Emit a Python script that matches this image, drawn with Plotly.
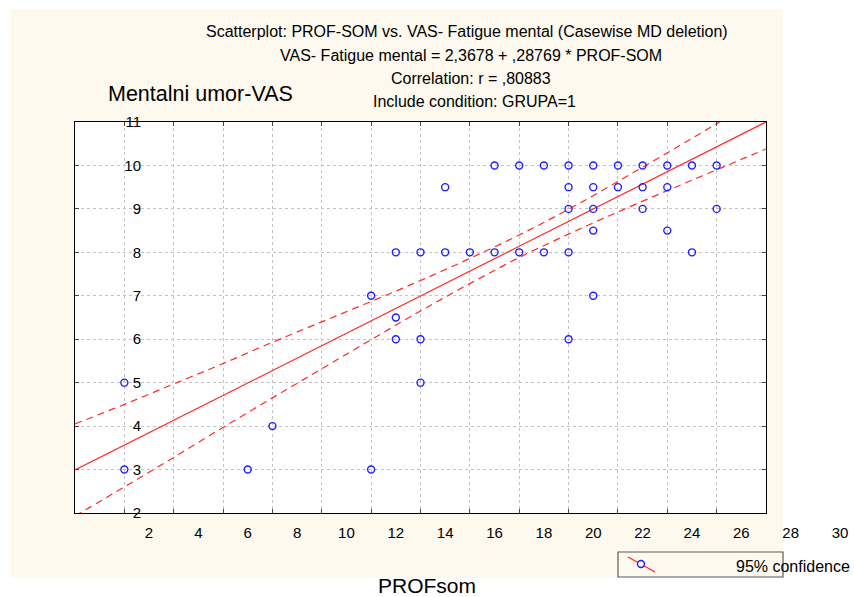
import plotly.graph_objects as go

# ---- data ----
prof_som = [1, 1, 6, 7, 11, 11, 12, 12, 12, 13, 13, 13, 14, 14, 15, 16, 16, 17, 17, 18, 18,
            19, 19, 19, 19, 19, 20, 20, 20, 20, 20, 21, 21, 22, 22, 22, 23, 23, 23, 24, 24, 25, 25]
vas_mental = [5, 3, 3, 4, 7, 3, 8, 6.5, 6, 8, 6, 5, 9.5, 8, 8, 10, 8, 10, 8, 10, 8,
              10, 9.5, 9, 8, 6, 10, 9.5, 9, 8.5, 7, 10, 9.5, 10, 9.5, 9, 10, 9.5, 8.5, 10, 8, 10, 9]

fit_x = [-1, 27]
fit_y = [2.99, 11.0]

band_x = [-1, 1, 3, 5, 7, 9, 11, 13, 15, 17, 19, 21, 23, 25, 27]
band_upper = [4.05, 4.50, 4.97, 5.44, 5.93, 6.40, 6.87, 7.35, 7.86, 8.40, 8.99, 9.63, 10.29, 10.96, 11.64]
band_lower = [1.93, 2.60, 3.28, 3.97, 4.65, 5.32, 5.99, 6.65, 7.28, 7.88, 8.42, 8.93, 9.42, 9.90, 10.38]

grid_x = [1, 3, 5, 7, 9, 11, 13, 15, 17, 19, 21, 23, 25]
grid_y = [3, 4, 5, 6, 7, 8, 9, 10]
x_tick_labels = [2, 4, 6, 8, 10, 12, 14, 16, 18, 20, 22, 24, 26, 28, 30]
y_tick_labels = [2, 3, 4, 5, 6, 7, 8, 9, 10, 11]

title_lines = [
    "Scatterplot: PROF-SOM vs. VAS- Fatigue mental (Casewise MD deletion)",
    "VAS- Fatigue mental = 2,3678 + ,28769 * PROF-SOM",
    "Correlation: r = ,80883",
    "Include condition: GRUPA=1",
]

FONT = "Liberation Sans, Arial, sans-serif"
RED = "rgb(255,40,40)"
BLUE = "rgb(30,30,255)"
CREAM = "rgb(253,249,238)"

# ---- pixel geometry helpers (layout only) ----
W, H = 854, 597
ML, MR, MT, MB = 75, 4, 122, 72
PW = W - ML - MR
PH = H - MT - MB


def px(xp):
    return (xp - ML) / PW


def py(yp):
    return (H - MB - yp) / PH


x_dom_end = px(766)
y_dom_start = py(513)

fig = go.Figure()

# confidence bands
fig.add_trace(go.Scatter(x=band_x, y=band_upper, mode="lines", line=dict(color=RED, width=1.2, dash="7px,5px", shape="spline"),
                         showlegend=False, hoverinfo="skip"))
fig.add_trace(go.Scatter(x=band_x, y=band_lower, mode="lines", line=dict(color=RED, width=1.2, dash="7px,5px", shape="spline"),
                         showlegend=False, hoverinfo="skip"))
# regression line
fig.add_trace(go.Scatter(x=fit_x, y=fit_y, mode="lines", line=dict(color=RED, width=1.2),
                         showlegend=False, hoverinfo="skip"))
# points
fig.add_trace(go.Scatter(x=prof_som, y=vas_mental, mode="markers",
                         marker=dict(symbol="circle-open", size=7, color=BLUE, line=dict(width=1.4, color=BLUE)),
                         showlegend=False))
# helper traces for label axes
fig.add_trace(go.Scatter(x=[None], y=[None], xaxis="x", yaxis="y2", showlegend=False, hoverinfo="skip"))
fig.add_trace(go.Scatter(x=[None], y=[None], xaxis="x2", yaxis="y3", showlegend=False, hoverinfo="skip"))

shapes = [
    dict(type="rect", xref="paper", yref="paper", x0=px(10), x1=px(783), y0=py(578), y1=py(9),
         fillcolor=CREAM, line=dict(width=0), layer="below"),
    dict(type="rect", xref="paper", yref="paper", x0=0, x1=x_dom_end, y0=y_dom_start, y1=1,
         fillcolor="white", line=dict(width=0), layer="below"),
    # legend box
    dict(type="rect", xref="paper", yref="paper", x0=px(618), x1=px(783), y0=py(577), y1=py(552),
         fillcolor=CREAM, line=dict(color="rgb(90,90,90)", width=1.2), layer="above"),
    dict(type="line", xref="paper", yref="paper", x0=px(628), x1=px(655), y0=py(557), y1=py(572),
         line=dict(color=RED, width=1.2), layer="above"),
    dict(type="circle", xref="paper", yref="paper", x0=px(637.5), x1=px(644.5), y0=py(567.5), y1=py(560.5),
         fillcolor=CREAM, line=dict(color=BLUE, width=1.4), layer="above"),
]

annotations = []
for line, xc, yp in zip(title_lines, [467, 471, 471, 474], [32, 55, 78, 101]):
    annotations.append(dict(text=line, xref="paper", yref="paper", x=px(xc), y=py(yp),
                            xanchor="center", yanchor="middle", showarrow=False,
                            font=dict(family=FONT, size=16, color="black")))
annotations.append(dict(text="Mentalni umor-VAS", xref="paper", yref="paper", x=px(106), y=py(94),
                        xanchor="left", yanchor="middle", showarrow=False,
                        font=dict(family=FONT, size=21.5, color="black")))
annotations.append(dict(text="PROFsom", xref="paper", yref="paper", x=px(427), y=py(585),
                        xanchor="center", yanchor="middle", showarrow=False,
                        font=dict(family=FONT, size=21, color="black")))
annotations.append(dict(text="95% confidence", xref="paper", yref="paper", x=px(734), y=py(566),
                        xanchor="left", yanchor="middle", showarrow=False,
                        font=dict(family=FONT, size=16, color="black")))

axis_common = dict(showline=True, linecolor="black", linewidth=1.2, mirror="ticks",
                   ticks="inside", ticklen=4, tickwidth=1.2, tickcolor="rgb(70,70,70)",
                   showgrid=True, gridcolor="rgb(195,195,195)", griddash="dot", gridwidth=1,
                   zeroline=False, showticklabels=False)

fig.update_layout(
    width=W, height=H,
    margin=dict(l=ML, r=MR, t=MT, b=MB, pad=0),
    paper_bgcolor="white", plot_bgcolor="rgba(0,0,0,0)",
    font=dict(family=FONT, color="black"),
    showlegend=False,
    xaxis=dict(domain=[0, x_dom_end], range=[-1, 27], tickvals=grid_x, anchor="y", **axis_common),
    yaxis=dict(domain=[y_dom_start, 1], range=[2, 11], tickvals=grid_y, anchor="x", **axis_common),
    yaxis2=dict(overlaying="y", range=[2, 11], anchor="free", position=px(141), side="left",
                tickvals=y_tick_labels, ticktext=[str(v) for v in y_tick_labels],
                showline=False, showgrid=False, zeroline=False, ticks="",
                tickfont=dict(family=FONT, size=15, color="black")),
    xaxis2=dict(domain=[0, 1], range=[-1, -1 + PW / ((766 - 75) / 28)], anchor="free", position=py(522),
                tickvals=x_tick_labels, ticktext=[str(v) for v in x_tick_labels],
                showline=False, showgrid=False, zeroline=False, ticks="",
                tickfont=dict(family=FONT, size=15, color="black")),
    yaxis3=dict(domain=[0, 1], range=[0, 1], visible=False, anchor="x2"),
    shapes=shapes,
    annotations=annotations,
)

fig.write_html("out.html", config={"displayModeBar": False},
               post_script="document.body.style.margin='0';document.body.style.overflow='hidden';")
